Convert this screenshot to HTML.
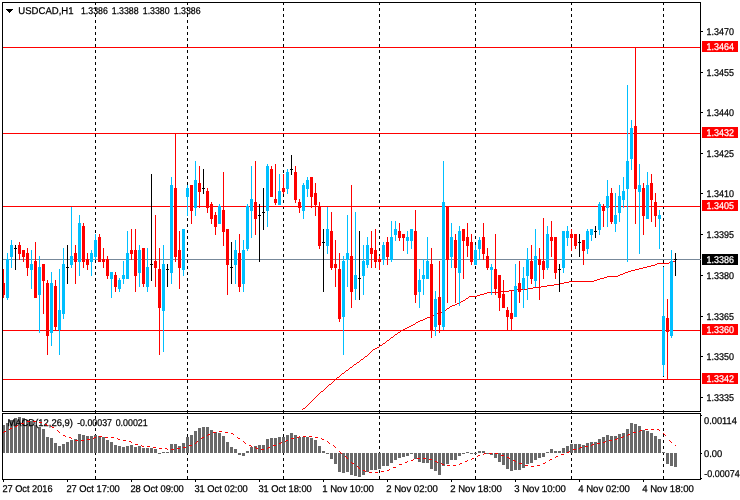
<!DOCTYPE html>
<html><head><meta charset="utf-8"><title>USDCAD,H1</title>
<style>
html,body{margin:0;padding:0;background:#fff;}
body{width:740px;height:500px;overflow:hidden;}
svg{display:block;font-family:"Liberation Sans",sans-serif;font-size:9.8px;text-rendering:geometricPrecision;}
text{stroke:#000;stroke-width:0.25px;}
text.w{stroke:#fff;}
</style></head><body>
<svg width="740" height="500" viewBox="0 0 740 500" shape-rendering="crispEdges">
<rect width="740" height="500" fill="#fff"/>
<path d="M95 2h1v3h-1zM95 8h1v3h-1zM95 14h1v3h-1zM95 20h1v3h-1zM95 26h1v3h-1zM95 32h1v3h-1zM95 38h1v3h-1zM95 44h1v3h-1zM95 50h1v3h-1zM95 56h1v3h-1zM95 62h1v3h-1zM95 68h1v3h-1zM95 74h1v3h-1zM95 80h1v3h-1zM95 86h1v3h-1zM95 92h1v3h-1zM95 98h1v3h-1zM95 104h1v3h-1zM95 110h1v3h-1zM95 116h1v3h-1zM95 122h1v3h-1zM95 128h1v3h-1zM95 134h1v3h-1zM95 140h1v3h-1zM95 146h1v3h-1zM95 152h1v3h-1zM95 158h1v3h-1zM95 164h1v3h-1zM95 170h1v3h-1zM95 176h1v3h-1zM95 182h1v3h-1zM95 188h1v3h-1zM95 194h1v3h-1zM95 200h1v3h-1zM95 206h1v3h-1zM95 212h1v3h-1zM95 218h1v3h-1zM95 224h1v3h-1zM95 230h1v3h-1zM95 236h1v3h-1zM95 242h1v3h-1zM95 248h1v3h-1zM95 254h1v3h-1zM95 260h1v3h-1zM95 266h1v3h-1zM95 272h1v3h-1zM95 278h1v3h-1zM95 284h1v3h-1zM95 290h1v3h-1zM95 296h1v3h-1zM95 302h1v3h-1zM95 308h1v3h-1zM95 314h1v3h-1zM95 320h1v3h-1zM95 326h1v3h-1zM95 332h1v3h-1zM95 338h1v3h-1zM95 344h1v3h-1zM95 350h1v3h-1zM95 356h1v3h-1zM95 362h1v3h-1zM95 368h1v3h-1zM95 374h1v3h-1zM95 380h1v3h-1zM95 386h1v3h-1zM95 392h1v3h-1zM95 398h1v3h-1zM95 404h1v3h-1zM95 410h1v3h-1zM95 416h1v3h-1zM95 422h1v3h-1zM95 428h1v3h-1zM95 434h1v3h-1zM95 440h1v3h-1zM95 446h1v3h-1zM95 452h1v3h-1zM95 458h1v3h-1zM95 464h1v3h-1zM95 470h1v3h-1zM95 476h1v3h-1zM187 2h1v3h-1zM187 8h1v3h-1zM187 14h1v3h-1zM187 20h1v3h-1zM187 26h1v3h-1zM187 32h1v3h-1zM187 38h1v3h-1zM187 44h1v3h-1zM187 50h1v3h-1zM187 56h1v3h-1zM187 62h1v3h-1zM187 68h1v3h-1zM187 74h1v3h-1zM187 80h1v3h-1zM187 86h1v3h-1zM187 92h1v3h-1zM187 98h1v3h-1zM187 104h1v3h-1zM187 110h1v3h-1zM187 116h1v3h-1zM187 122h1v3h-1zM187 128h1v3h-1zM187 134h1v3h-1zM187 140h1v3h-1zM187 146h1v3h-1zM187 152h1v3h-1zM187 158h1v3h-1zM187 164h1v3h-1zM187 170h1v3h-1zM187 176h1v3h-1zM187 182h1v3h-1zM187 188h1v3h-1zM187 194h1v3h-1zM187 200h1v3h-1zM187 206h1v3h-1zM187 212h1v3h-1zM187 218h1v3h-1zM187 224h1v3h-1zM187 230h1v3h-1zM187 236h1v3h-1zM187 242h1v3h-1zM187 248h1v3h-1zM187 254h1v3h-1zM187 260h1v3h-1zM187 266h1v3h-1zM187 272h1v3h-1zM187 278h1v3h-1zM187 284h1v3h-1zM187 290h1v3h-1zM187 296h1v3h-1zM187 302h1v3h-1zM187 308h1v3h-1zM187 314h1v3h-1zM187 320h1v3h-1zM187 326h1v3h-1zM187 332h1v3h-1zM187 338h1v3h-1zM187 344h1v3h-1zM187 350h1v3h-1zM187 356h1v3h-1zM187 362h1v3h-1zM187 368h1v3h-1zM187 374h1v3h-1zM187 380h1v3h-1zM187 386h1v3h-1zM187 392h1v3h-1zM187 398h1v3h-1zM187 404h1v3h-1zM187 410h1v3h-1zM187 416h1v3h-1zM187 422h1v3h-1zM187 428h1v3h-1zM187 434h1v3h-1zM187 440h1v3h-1zM187 446h1v3h-1zM187 452h1v3h-1zM187 458h1v3h-1zM187 464h1v3h-1zM187 470h1v3h-1zM187 476h1v3h-1zM283 2h1v3h-1zM283 8h1v3h-1zM283 14h1v3h-1zM283 20h1v3h-1zM283 26h1v3h-1zM283 32h1v3h-1zM283 38h1v3h-1zM283 44h1v3h-1zM283 50h1v3h-1zM283 56h1v3h-1zM283 62h1v3h-1zM283 68h1v3h-1zM283 74h1v3h-1zM283 80h1v3h-1zM283 86h1v3h-1zM283 92h1v3h-1zM283 98h1v3h-1zM283 104h1v3h-1zM283 110h1v3h-1zM283 116h1v3h-1zM283 122h1v3h-1zM283 128h1v3h-1zM283 134h1v3h-1zM283 140h1v3h-1zM283 146h1v3h-1zM283 152h1v3h-1zM283 158h1v3h-1zM283 164h1v3h-1zM283 170h1v3h-1zM283 176h1v3h-1zM283 182h1v3h-1zM283 188h1v3h-1zM283 194h1v3h-1zM283 200h1v3h-1zM283 206h1v3h-1zM283 212h1v3h-1zM283 218h1v3h-1zM283 224h1v3h-1zM283 230h1v3h-1zM283 236h1v3h-1zM283 242h1v3h-1zM283 248h1v3h-1zM283 254h1v3h-1zM283 260h1v3h-1zM283 266h1v3h-1zM283 272h1v3h-1zM283 278h1v3h-1zM283 284h1v3h-1zM283 290h1v3h-1zM283 296h1v3h-1zM283 302h1v3h-1zM283 308h1v3h-1zM283 314h1v3h-1zM283 320h1v3h-1zM283 326h1v3h-1zM283 332h1v3h-1zM283 338h1v3h-1zM283 344h1v3h-1zM283 350h1v3h-1zM283 356h1v3h-1zM283 362h1v3h-1zM283 368h1v3h-1zM283 374h1v3h-1zM283 380h1v3h-1zM283 386h1v3h-1zM283 392h1v3h-1zM283 398h1v3h-1zM283 404h1v3h-1zM283 410h1v3h-1zM283 416h1v3h-1zM283 422h1v3h-1zM283 428h1v3h-1zM283 434h1v3h-1zM283 440h1v3h-1zM283 446h1v3h-1zM283 452h1v3h-1zM283 458h1v3h-1zM283 464h1v3h-1zM283 470h1v3h-1zM283 476h1v3h-1zM379 2h1v3h-1zM379 8h1v3h-1zM379 14h1v3h-1zM379 20h1v3h-1zM379 26h1v3h-1zM379 32h1v3h-1zM379 38h1v3h-1zM379 44h1v3h-1zM379 50h1v3h-1zM379 56h1v3h-1zM379 62h1v3h-1zM379 68h1v3h-1zM379 74h1v3h-1zM379 80h1v3h-1zM379 86h1v3h-1zM379 92h1v3h-1zM379 98h1v3h-1zM379 104h1v3h-1zM379 110h1v3h-1zM379 116h1v3h-1zM379 122h1v3h-1zM379 128h1v3h-1zM379 134h1v3h-1zM379 140h1v3h-1zM379 146h1v3h-1zM379 152h1v3h-1zM379 158h1v3h-1zM379 164h1v3h-1zM379 170h1v3h-1zM379 176h1v3h-1zM379 182h1v3h-1zM379 188h1v3h-1zM379 194h1v3h-1zM379 200h1v3h-1zM379 206h1v3h-1zM379 212h1v3h-1zM379 218h1v3h-1zM379 224h1v3h-1zM379 230h1v3h-1zM379 236h1v3h-1zM379 242h1v3h-1zM379 248h1v3h-1zM379 254h1v3h-1zM379 260h1v3h-1zM379 266h1v3h-1zM379 272h1v3h-1zM379 278h1v3h-1zM379 284h1v3h-1zM379 290h1v3h-1zM379 296h1v3h-1zM379 302h1v3h-1zM379 308h1v3h-1zM379 314h1v3h-1zM379 320h1v3h-1zM379 326h1v3h-1zM379 332h1v3h-1zM379 338h1v3h-1zM379 344h1v3h-1zM379 350h1v3h-1zM379 356h1v3h-1zM379 362h1v3h-1zM379 368h1v3h-1zM379 374h1v3h-1zM379 380h1v3h-1zM379 386h1v3h-1zM379 392h1v3h-1zM379 398h1v3h-1zM379 404h1v3h-1zM379 410h1v3h-1zM379 416h1v3h-1zM379 422h1v3h-1zM379 428h1v3h-1zM379 434h1v3h-1zM379 440h1v3h-1zM379 446h1v3h-1zM379 452h1v3h-1zM379 458h1v3h-1zM379 464h1v3h-1zM379 470h1v3h-1zM379 476h1v3h-1zM475 2h1v3h-1zM475 8h1v3h-1zM475 14h1v3h-1zM475 20h1v3h-1zM475 26h1v3h-1zM475 32h1v3h-1zM475 38h1v3h-1zM475 44h1v3h-1zM475 50h1v3h-1zM475 56h1v3h-1zM475 62h1v3h-1zM475 68h1v3h-1zM475 74h1v3h-1zM475 80h1v3h-1zM475 86h1v3h-1zM475 92h1v3h-1zM475 98h1v3h-1zM475 104h1v3h-1zM475 110h1v3h-1zM475 116h1v3h-1zM475 122h1v3h-1zM475 128h1v3h-1zM475 134h1v3h-1zM475 140h1v3h-1zM475 146h1v3h-1zM475 152h1v3h-1zM475 158h1v3h-1zM475 164h1v3h-1zM475 170h1v3h-1zM475 176h1v3h-1zM475 182h1v3h-1zM475 188h1v3h-1zM475 194h1v3h-1zM475 200h1v3h-1zM475 206h1v3h-1zM475 212h1v3h-1zM475 218h1v3h-1zM475 224h1v3h-1zM475 230h1v3h-1zM475 236h1v3h-1zM475 242h1v3h-1zM475 248h1v3h-1zM475 254h1v3h-1zM475 260h1v3h-1zM475 266h1v3h-1zM475 272h1v3h-1zM475 278h1v3h-1zM475 284h1v3h-1zM475 290h1v3h-1zM475 296h1v3h-1zM475 302h1v3h-1zM475 308h1v3h-1zM475 314h1v3h-1zM475 320h1v3h-1zM475 326h1v3h-1zM475 332h1v3h-1zM475 338h1v3h-1zM475 344h1v3h-1zM475 350h1v3h-1zM475 356h1v3h-1zM475 362h1v3h-1zM475 368h1v3h-1zM475 374h1v3h-1zM475 380h1v3h-1zM475 386h1v3h-1zM475 392h1v3h-1zM475 398h1v3h-1zM475 404h1v3h-1zM475 410h1v3h-1zM475 416h1v3h-1zM475 422h1v3h-1zM475 428h1v3h-1zM475 434h1v3h-1zM475 440h1v3h-1zM475 446h1v3h-1zM475 452h1v3h-1zM475 458h1v3h-1zM475 464h1v3h-1zM475 470h1v3h-1zM475 476h1v3h-1zM571 2h1v3h-1zM571 8h1v3h-1zM571 14h1v3h-1zM571 20h1v3h-1zM571 26h1v3h-1zM571 32h1v3h-1zM571 38h1v3h-1zM571 44h1v3h-1zM571 50h1v3h-1zM571 56h1v3h-1zM571 62h1v3h-1zM571 68h1v3h-1zM571 74h1v3h-1zM571 80h1v3h-1zM571 86h1v3h-1zM571 92h1v3h-1zM571 98h1v3h-1zM571 104h1v3h-1zM571 110h1v3h-1zM571 116h1v3h-1zM571 122h1v3h-1zM571 128h1v3h-1zM571 134h1v3h-1zM571 140h1v3h-1zM571 146h1v3h-1zM571 152h1v3h-1zM571 158h1v3h-1zM571 164h1v3h-1zM571 170h1v3h-1zM571 176h1v3h-1zM571 182h1v3h-1zM571 188h1v3h-1zM571 194h1v3h-1zM571 200h1v3h-1zM571 206h1v3h-1zM571 212h1v3h-1zM571 218h1v3h-1zM571 224h1v3h-1zM571 230h1v3h-1zM571 236h1v3h-1zM571 242h1v3h-1zM571 248h1v3h-1zM571 254h1v3h-1zM571 260h1v3h-1zM571 266h1v3h-1zM571 272h1v3h-1zM571 278h1v3h-1zM571 284h1v3h-1zM571 290h1v3h-1zM571 296h1v3h-1zM571 302h1v3h-1zM571 308h1v3h-1zM571 314h1v3h-1zM571 320h1v3h-1zM571 326h1v3h-1zM571 332h1v3h-1zM571 338h1v3h-1zM571 344h1v3h-1zM571 350h1v3h-1zM571 356h1v3h-1zM571 362h1v3h-1zM571 368h1v3h-1zM571 374h1v3h-1zM571 380h1v3h-1zM571 386h1v3h-1zM571 392h1v3h-1zM571 398h1v3h-1zM571 404h1v3h-1zM571 410h1v3h-1zM571 416h1v3h-1zM571 422h1v3h-1zM571 428h1v3h-1zM571 434h1v3h-1zM571 440h1v3h-1zM571 446h1v3h-1zM571 452h1v3h-1zM571 458h1v3h-1zM571 464h1v3h-1zM571 470h1v3h-1zM571 476h1v3h-1zM663 2h1v3h-1zM663 8h1v3h-1zM663 14h1v3h-1zM663 20h1v3h-1zM663 26h1v3h-1zM663 32h1v3h-1zM663 38h1v3h-1zM663 44h1v3h-1zM663 50h1v3h-1zM663 56h1v3h-1zM663 62h1v3h-1zM663 68h1v3h-1zM663 74h1v3h-1zM663 80h1v3h-1zM663 86h1v3h-1zM663 92h1v3h-1zM663 98h1v3h-1zM663 104h1v3h-1zM663 110h1v3h-1zM663 116h1v3h-1zM663 122h1v3h-1zM663 128h1v3h-1zM663 134h1v3h-1zM663 140h1v3h-1zM663 146h1v3h-1zM663 152h1v3h-1zM663 158h1v3h-1zM663 164h1v3h-1zM663 170h1v3h-1zM663 176h1v3h-1zM663 182h1v3h-1zM663 188h1v3h-1zM663 194h1v3h-1zM663 200h1v3h-1zM663 206h1v3h-1zM663 212h1v3h-1zM663 218h1v3h-1zM663 224h1v3h-1zM663 230h1v3h-1zM663 236h1v3h-1zM663 242h1v3h-1zM663 248h1v3h-1zM663 254h1v3h-1zM663 260h1v3h-1zM663 266h1v3h-1zM663 272h1v3h-1zM663 278h1v3h-1zM663 284h1v3h-1zM663 290h1v3h-1zM663 296h1v3h-1zM663 302h1v3h-1zM663 308h1v3h-1zM663 314h1v3h-1zM663 320h1v3h-1zM663 326h1v3h-1zM663 332h1v3h-1zM663 338h1v3h-1zM663 344h1v3h-1zM663 350h1v3h-1zM663 356h1v3h-1zM663 362h1v3h-1zM663 368h1v3h-1zM663 374h1v3h-1zM663 380h1v3h-1zM663 386h1v3h-1zM663 392h1v3h-1zM663 398h1v3h-1zM663 404h1v3h-1zM663 410h1v3h-1zM663 416h1v3h-1zM663 422h1v3h-1zM663 428h1v3h-1zM663 434h1v3h-1zM663 440h1v3h-1zM663 446h1v3h-1zM663 452h1v3h-1zM663 458h1v3h-1zM663 464h1v3h-1zM663 470h1v3h-1zM663 476h1v3h-1z" fill="#000"/>
<rect x="3" y="47" width="697" height="1" fill="#FF0000"/>
<rect x="3" y="133" width="697" height="1" fill="#FF0000"/>
<rect x="3" y="206" width="697" height="1" fill="#FF0000"/>
<rect x="3" y="330" width="697" height="1" fill="#FF0000"/>
<rect x="3" y="379" width="697" height="1" fill="#FF0000"/>
<rect x="3" y="259" width="698" height="1" fill="#778899"/>
<path d="M302 409h1v1h-1zM303 408h1v1h-1zM304 408h1v1h-1zM305 407h1v1h-1zM306 406h1v1h-1zM307 405h1v1h-1zM308 404h1v1h-1zM309 403h1v1h-1zM310 402h1v1h-1zM311 401h1v1h-1zM312 400h1v1h-1zM313 399h1v1h-1zM314 398h1v1h-1zM315 397h1v1h-1zM316 396h1v1h-1zM317 395h1v1h-1zM318 394h1v1h-1zM319 393h1v1h-1zM320 392h1v1h-1zM321 391h1v1h-1zM322 391h1v1h-1zM323 390h1v1h-1zM324 389h1v1h-1zM325 388h1v1h-1zM326 387h1v1h-1zM327 386h1v1h-1zM328 385h1v1h-1zM329 384h1v1h-1zM330 384h1v1h-1zM331 383h1v1h-1zM332 382h1v1h-1zM333 381h1v1h-1zM334 380h1v1h-1zM335 379h1v1h-1zM336 378h1v1h-1zM337 377h1v1h-1zM338 377h1v1h-1zM339 376h1v1h-1zM340 375h1v1h-1zM341 374h1v1h-1zM342 373h1v1h-1zM343 373h1v1h-1zM344 372h1v1h-1zM345 371h1v1h-1zM346 370h1v1h-1zM347 370h1v1h-1zM348 369h1v1h-1zM349 368h1v1h-1zM350 367h1v1h-1zM351 367h1v1h-1zM352 366h1v1h-1zM353 365h1v1h-1zM354 364h1v1h-1zM355 364h1v1h-1zM356 363h1v1h-1zM357 362h1v1h-1zM358 362h1v1h-1zM359 361h1v1h-1zM360 360h1v1h-1zM361 359h1v1h-1zM362 359h1v1h-1zM363 358h1v1h-1zM364 357h1v1h-1zM365 356h1v1h-1zM366 356h1v1h-1zM367 355h1v1h-1zM368 354h1v1h-1zM369 353h1v1h-1zM370 352h1v1h-1zM371 351h1v1h-1zM372 350h1v1h-1zM373 349h1v1h-1zM374 349h1v1h-1zM375 348h1v1h-1zM376 348h1v1h-1zM377 347h1v1h-1zM378 347h1v1h-1zM379 346h1v1h-1zM380 345h1v1h-1zM381 345h1v1h-1zM382 344h1v1h-1zM383 343h1v1h-1zM384 343h1v1h-1zM385 342h1v1h-1zM386 341h1v1h-1zM387 340h1v1h-1zM388 340h1v1h-1zM389 339h1v1h-1zM390 338h1v1h-1zM391 337h1v1h-1zM392 337h1v1h-1zM393 336h1v1h-1zM394 335h1v1h-1zM395 334h1v1h-1zM396 334h1v1h-1zM397 333h1v1h-1zM398 332h1v1h-1zM399 332h1v1h-1zM400 331h1v1h-1zM401 330h1v1h-1zM402 330h1v1h-1zM403 329h1v1h-1zM404 329h1v1h-1zM405 328h1v1h-1zM406 328h1v1h-1zM407 327h1v1h-1zM408 327h1v1h-1zM409 326h1v1h-1zM410 326h1v1h-1zM411 325h1v1h-1zM412 325h1v1h-1zM413 324h1v1h-1zM414 324h1v1h-1zM415 323h1v1h-1zM416 322h1v1h-1zM417 322h1v1h-1zM418 321h1v1h-1zM419 321h1v1h-1zM420 320h1v1h-1zM421 320h1v1h-1zM422 320h1v1h-1zM423 319h1v1h-1zM424 319h1v1h-1zM425 318h1v1h-1zM426 318h1v1h-1zM427 317h1v1h-1zM428 317h1v1h-1zM429 317h1v1h-1zM430 316h1v1h-1zM431 316h1v1h-1zM432 315h1v1h-1zM433 315h1v1h-1zM434 314h1v1h-1zM435 314h1v1h-1zM436 313h1v1h-1zM437 313h1v1h-1zM438 313h1v1h-1zM439 312h1v1h-1zM440 312h1v1h-1zM441 312h1v1h-1zM442 311h1v1h-1zM443 311h1v1h-1zM444 310h1v1h-1zM445 310h1v1h-1zM446 309h1v1h-1zM447 308h1v1h-1zM448 308h1v1h-1zM449 307h1v1h-1zM450 306h1v1h-1zM451 306h1v1h-1zM452 305h1v1h-1zM453 305h1v1h-1zM454 305h1v1h-1zM455 304h1v1h-1zM456 304h1v1h-1zM457 303h1v1h-1zM458 303h1v1h-1zM459 303h1v1h-1zM460 302h1v1h-1zM461 301h1v1h-1zM462 301h1v1h-1zM463 300h1v1h-1zM464 300h1v1h-1zM465 299h1v1h-1zM466 298h1v1h-1zM467 298h1v1h-1zM468 297h1v1h-1zM469 296h1v1h-1zM470 296h1v1h-1zM471 296h1v1h-1zM472 296h1v1h-1zM473 296h1v1h-1zM474 296h1v1h-1zM475 296h1v1h-1zM476 296h1v1h-1zM477 295h1v1h-1zM478 295h1v1h-1zM479 295h1v1h-1zM480 294h1v1h-1zM481 294h1v1h-1zM482 294h1v1h-1zM483 294h1v1h-1zM484 293h1v1h-1zM485 293h1v1h-1zM486 293h1v1h-1zM487 292h1v1h-1zM488 292h1v1h-1zM489 292h1v1h-1zM490 292h1v1h-1zM491 292h1v1h-1zM492 292h1v1h-1zM493 292h1v1h-1zM494 292h1v1h-1zM495 292h1v1h-1zM496 292h1v1h-1zM497 292h1v1h-1zM498 292h1v1h-1zM499 292h1v1h-1zM500 292h1v1h-1zM501 291h1v1h-1zM502 291h1v1h-1zM503 291h1v1h-1zM504 291h1v1h-1zM505 291h1v1h-1zM506 291h1v1h-1zM507 291h1v1h-1zM508 291h1v1h-1zM509 290h1v1h-1zM510 290h1v1h-1zM511 290h1v1h-1zM512 290h1v1h-1zM513 290h1v1h-1zM514 289h1v1h-1zM515 289h1v1h-1zM516 289h1v1h-1zM517 289h1v1h-1zM518 289h1v1h-1zM519 289h1v1h-1zM520 289h1v1h-1zM521 289h1v1h-1zM522 289h1v1h-1zM523 289h1v1h-1zM524 289h1v1h-1zM525 289h1v1h-1zM526 289h1v1h-1zM527 289h1v1h-1zM528 288h1v1h-1zM529 288h1v1h-1zM530 288h1v1h-1zM531 288h1v1h-1zM532 288h1v1h-1zM533 287h1v1h-1zM534 287h1v1h-1zM535 287h1v1h-1zM536 287h1v1h-1zM537 287h1v1h-1zM538 287h1v1h-1zM539 287h1v1h-1zM540 287h1v1h-1zM541 286h1v1h-1zM542 286h1v1h-1zM543 286h1v1h-1zM544 286h1v1h-1zM545 286h1v1h-1zM546 286h1v1h-1zM547 285h1v1h-1zM548 285h1v1h-1zM549 285h1v1h-1zM550 285h1v1h-1zM551 285h1v1h-1zM552 285h1v1h-1zM553 285h1v1h-1zM554 284h1v1h-1zM555 284h1v1h-1zM556 284h1v1h-1zM557 284h1v1h-1zM558 284h1v1h-1zM559 284h1v1h-1zM560 283h1v1h-1zM561 283h1v1h-1zM562 283h1v1h-1zM563 283h1v1h-1zM564 282h1v1h-1zM565 282h1v1h-1zM566 282h1v1h-1zM567 282h1v1h-1zM568 282h1v1h-1zM569 281h1v1h-1zM570 281h1v1h-1zM571 281h1v1h-1zM572 281h1v1h-1zM573 281h1v1h-1zM574 281h1v1h-1zM575 281h1v1h-1zM576 281h1v1h-1zM577 281h1v1h-1zM578 281h1v1h-1zM579 281h1v1h-1zM580 281h1v1h-1zM581 281h1v1h-1zM582 281h1v1h-1zM583 281h1v1h-1zM584 281h1v1h-1zM585 281h1v1h-1zM586 281h1v1h-1zM587 281h1v1h-1zM588 281h1v1h-1zM589 281h1v1h-1zM590 281h1v1h-1zM591 281h1v1h-1zM592 281h1v1h-1zM593 281h1v1h-1zM594 280h1v1h-1zM595 280h1v1h-1zM596 280h1v1h-1zM597 279h1v1h-1zM598 279h1v1h-1zM599 279h1v1h-1zM600 278h1v1h-1zM601 278h1v1h-1zM602 278h1v1h-1zM603 278h1v1h-1zM604 277h1v1h-1zM605 277h1v1h-1zM606 277h1v1h-1zM607 276h1v1h-1zM608 276h1v1h-1zM609 276h1v1h-1zM610 276h1v1h-1zM611 276h1v1h-1zM612 276h1v1h-1zM613 276h1v1h-1zM614 276h1v1h-1zM615 276h1v1h-1zM616 276h1v1h-1zM617 276h1v1h-1zM618 275h1v1h-1zM619 275h1v1h-1zM620 274h1v1h-1zM621 274h1v1h-1zM622 274h1v1h-1zM623 273h1v1h-1zM624 273h1v1h-1zM625 272h1v1h-1zM626 272h1v1h-1zM627 272h1v1h-1zM628 271h1v1h-1zM629 271h1v1h-1zM630 271h1v1h-1zM631 270h1v1h-1zM632 270h1v1h-1zM633 270h1v1h-1zM634 270h1v1h-1zM635 269h1v1h-1zM636 269h1v1h-1zM637 269h1v1h-1zM638 269h1v1h-1zM639 268h1v1h-1zM640 268h1v1h-1zM641 268h1v1h-1zM642 268h1v1h-1zM643 267h1v1h-1zM644 267h1v1h-1zM645 267h1v1h-1zM646 267h1v1h-1zM647 266h1v1h-1zM648 266h1v1h-1zM649 266h1v1h-1zM650 266h1v1h-1zM651 265h1v1h-1zM652 265h1v1h-1zM653 265h1v1h-1zM654 265h1v1h-1zM655 264h1v1h-1zM656 264h1v1h-1zM657 263h1v1h-1zM658 263h1v1h-1zM659 263h1v1h-1zM660 263h1v1h-1zM661 263h1v1h-1zM662 263h1v1h-1zM663 263h1v1h-1zM664 263h1v1h-1zM665 263h1v1h-1zM666 263h1v1h-1zM667 263h1v1h-1zM668 263h1v1h-1zM669 262h1v1h-1zM670 262h1v1h-1zM671 261h1v1h-1zM672 261h1v1h-1zM673 261h1v1h-1zM674 261h1v1h-1zM675 261h1v1h-1z" fill="#FF0000"/>
<rect x="3" y="269" width="1" height="29" fill="#FF0000"/>
<rect x="2" y="283" width="3" height="12" fill="#FF0000"/>
<rect x="7" y="253" width="1" height="47" fill="#00BFFF"/>
<rect x="6" y="259" width="3" height="39" fill="#00BFFF"/>
<rect x="11" y="240" width="1" height="28" fill="#00BFFF"/>
<rect x="10" y="245" width="3" height="12" fill="#00BFFF"/>
<rect x="15" y="245" width="1" height="25" fill="#000000"/>
<rect x="14" y="248" width="3" height="1" fill="#000000"/>
<rect x="19" y="242" width="1" height="18" fill="#FF0000"/>
<rect x="18" y="245" width="3" height="9" fill="#FF0000"/>
<rect x="23" y="250" width="1" height="12" fill="#FF0000"/>
<rect x="22" y="250" width="3" height="7" fill="#FF0000"/>
<rect x="27" y="248" width="1" height="28" fill="#FF0000"/>
<rect x="26" y="253" width="3" height="15" fill="#FF0000"/>
<rect x="31" y="250" width="1" height="39" fill="#00BFFF"/>
<rect x="30" y="264" width="3" height="6" fill="#00BFFF"/>
<rect x="35" y="242" width="1" height="56" fill="#FF0000"/>
<rect x="34" y="261" width="3" height="37" fill="#FF0000"/>
<rect x="39" y="256" width="1" height="77" fill="#00BFFF"/>
<rect x="38" y="267" width="3" height="28" fill="#00BFFF"/>
<rect x="43" y="264" width="1" height="50" fill="#FF0000"/>
<rect x="42" y="264" width="3" height="17" fill="#FF0000"/>
<rect x="47" y="280" width="1" height="75" fill="#FF0000"/>
<rect x="46" y="283" width="3" height="53" fill="#FF0000"/>
<rect x="51" y="272" width="1" height="74" fill="#00BFFF"/>
<rect x="50" y="283" width="3" height="50" fill="#00BFFF"/>
<rect x="55" y="280" width="1" height="51" fill="#FF0000"/>
<rect x="54" y="286" width="3" height="41" fill="#FF0000"/>
<rect x="59" y="269" width="1" height="86" fill="#00BFFF"/>
<rect x="58" y="310" width="3" height="20" fill="#00BFFF"/>
<rect x="63" y="248" width="1" height="71" fill="#00BFFF"/>
<rect x="62" y="264" width="3" height="50" fill="#00BFFF"/>
<rect x="67" y="245" width="1" height="39" fill="#000000"/>
<rect x="66" y="267" width="3" height="1" fill="#000000"/>
<rect x="71" y="207" width="1" height="61" fill="#00BFFF"/>
<rect x="70" y="256" width="3" height="9" fill="#00BFFF"/>
<rect x="75" y="245" width="1" height="39" fill="#FF0000"/>
<rect x="74" y="253" width="3" height="9" fill="#FF0000"/>
<rect x="79" y="215" width="1" height="61" fill="#00BFFF"/>
<rect x="78" y="223" width="3" height="39" fill="#00BFFF"/>
<rect x="83" y="223" width="1" height="45" fill="#FF0000"/>
<rect x="82" y="226" width="3" height="36" fill="#FF0000"/>
<rect x="87" y="253" width="1" height="17" fill="#FF0000"/>
<rect x="86" y="259" width="3" height="6" fill="#FF0000"/>
<rect x="91" y="250" width="1" height="26" fill="#00BFFF"/>
<rect x="90" y="253" width="3" height="9" fill="#00BFFF"/>
<rect x="95" y="234" width="1" height="26" fill="#00BFFF"/>
<rect x="94" y="240" width="3" height="17" fill="#00BFFF"/>
<rect x="99" y="234" width="1" height="28" fill="#FF0000"/>
<rect x="98" y="237" width="3" height="25" fill="#FF0000"/>
<rect x="103" y="248" width="1" height="20" fill="#FF0000"/>
<rect x="102" y="259" width="3" height="3" fill="#FF0000"/>
<rect x="107" y="256" width="1" height="23" fill="#FF0000"/>
<rect x="106" y="259" width="3" height="17" fill="#FF0000"/>
<rect x="111" y="272" width="1" height="26" fill="#00BFFF"/>
<rect x="110" y="272" width="3" height="7" fill="#00BFFF"/>
<rect x="115" y="272" width="1" height="20" fill="#FF0000"/>
<rect x="114" y="275" width="3" height="12" fill="#FF0000"/>
<rect x="119" y="278" width="1" height="14" fill="#00BFFF"/>
<rect x="118" y="280" width="3" height="9" fill="#00BFFF"/>
<rect x="123" y="261" width="1" height="23" fill="#00BFFF"/>
<rect x="122" y="275" width="3" height="4" fill="#00BFFF"/>
<rect x="127" y="231" width="1" height="48" fill="#00BFFF"/>
<rect x="126" y="253" width="3" height="26" fill="#00BFFF"/>
<rect x="131" y="229" width="1" height="31" fill="#FF0000"/>
<rect x="130" y="250" width="3" height="4" fill="#FF0000"/>
<rect x="135" y="229" width="1" height="63" fill="#FF0000"/>
<rect x="134" y="250" width="3" height="26" fill="#FF0000"/>
<rect x="139" y="245" width="1" height="42" fill="#00BFFF"/>
<rect x="138" y="250" width="3" height="23" fill="#00BFFF"/>
<rect x="143" y="248" width="1" height="39" fill="#FF0000"/>
<rect x="142" y="248" width="3" height="36" fill="#FF0000"/>
<rect x="147" y="248" width="1" height="44" fill="#00BFFF"/>
<rect x="146" y="267" width="3" height="20" fill="#00BFFF"/>
<rect x="151" y="174" width="1" height="107" fill="#000000"/>
<rect x="150" y="264" width="3" height="1" fill="#000000"/>
<rect x="155" y="215" width="1" height="72" fill="#FF0000"/>
<rect x="154" y="261" width="3" height="7" fill="#FF0000"/>
<rect x="159" y="248" width="1" height="107" fill="#FF0000"/>
<rect x="158" y="269" width="3" height="39" fill="#FF0000"/>
<rect x="163" y="245" width="1" height="107" fill="#00BFFF"/>
<rect x="162" y="264" width="3" height="47" fill="#00BFFF"/>
<rect x="167" y="264" width="1" height="23" fill="#000000"/>
<rect x="166" y="269" width="3" height="1" fill="#000000"/>
<rect x="171" y="177" width="1" height="107" fill="#00BFFF"/>
<rect x="170" y="185" width="3" height="88" fill="#00BFFF"/>
<rect x="175" y="133" width="1" height="129" fill="#FF0000"/>
<rect x="174" y="188" width="3" height="69" fill="#FF0000"/>
<rect x="179" y="231" width="1" height="58" fill="#FF0000"/>
<rect x="178" y="250" width="3" height="18" fill="#FF0000"/>
<rect x="183" y="229" width="1" height="47" fill="#00BFFF"/>
<rect x="182" y="229" width="3" height="41" fill="#00BFFF"/>
<rect x="187" y="185" width="1" height="31" fill="#00BFFF"/>
<rect x="186" y="188" width="3" height="9" fill="#00BFFF"/>
<rect x="191" y="185" width="1" height="39" fill="#FF0000"/>
<rect x="190" y="185" width="3" height="26" fill="#FF0000"/>
<rect x="195" y="161" width="1" height="55" fill="#00BFFF"/>
<rect x="194" y="180" width="3" height="28" fill="#00BFFF"/>
<rect x="199" y="166" width="1" height="42" fill="#FF0000"/>
<rect x="198" y="183" width="3" height="9" fill="#FF0000"/>
<rect x="203" y="169" width="1" height="25" fill="#000000"/>
<rect x="202" y="188" width="3" height="1" fill="#000000"/>
<rect x="207" y="188" width="1" height="25" fill="#FF0000"/>
<rect x="206" y="191" width="3" height="17" fill="#FF0000"/>
<rect x="211" y="202" width="1" height="22" fill="#FF0000"/>
<rect x="210" y="204" width="3" height="15" fill="#FF0000"/>
<rect x="215" y="212" width="1" height="23" fill="#FF0000"/>
<rect x="214" y="215" width="3" height="12" fill="#FF0000"/>
<rect x="219" y="204" width="1" height="20" fill="#00BFFF"/>
<rect x="218" y="206" width="3" height="18" fill="#00BFFF"/>
<rect x="223" y="172" width="1" height="74" fill="#FF0000"/>
<rect x="222" y="210" width="3" height="22" fill="#FF0000"/>
<rect x="227" y="229" width="1" height="66" fill="#FF0000"/>
<rect x="226" y="229" width="3" height="36" fill="#FF0000"/>
<rect x="231" y="242" width="1" height="42" fill="#000000"/>
<rect x="230" y="267" width="3" height="1" fill="#000000"/>
<rect x="235" y="240" width="1" height="44" fill="#00BFFF"/>
<rect x="234" y="250" width="3" height="15" fill="#00BFFF"/>
<rect x="239" y="234" width="1" height="58" fill="#FF0000"/>
<rect x="238" y="253" width="3" height="34" fill="#FF0000"/>
<rect x="243" y="240" width="1" height="52" fill="#00BFFF"/>
<rect x="242" y="250" width="3" height="34" fill="#00BFFF"/>
<rect x="247" y="204" width="1" height="47" fill="#00BFFF"/>
<rect x="246" y="206" width="3" height="43" fill="#00BFFF"/>
<rect x="251" y="166" width="1" height="72" fill="#00BFFF"/>
<rect x="250" y="199" width="3" height="12" fill="#00BFFF"/>
<rect x="255" y="161" width="1" height="74" fill="#FF0000"/>
<rect x="254" y="202" width="3" height="17" fill="#FF0000"/>
<rect x="259" y="204" width="1" height="58" fill="#000000"/>
<rect x="258" y="215" width="3" height="1" fill="#000000"/>
<rect x="263" y="188" width="1" height="42" fill="#000000"/>
<rect x="262" y="212" width="3" height="1" fill="#000000"/>
<rect x="267" y="164" width="1" height="63" fill="#00BFFF"/>
<rect x="266" y="166" width="3" height="45" fill="#00BFFF"/>
<rect x="271" y="166" width="1" height="31" fill="#FF0000"/>
<rect x="270" y="169" width="3" height="28" fill="#FF0000"/>
<rect x="275" y="164" width="1" height="41" fill="#FF0000"/>
<rect x="274" y="199" width="3" height="4" fill="#FF0000"/>
<rect x="279" y="174" width="1" height="31" fill="#00BFFF"/>
<rect x="278" y="191" width="3" height="14" fill="#00BFFF"/>
<rect x="283" y="174" width="1" height="20" fill="#FF0000"/>
<rect x="282" y="188" width="3" height="4" fill="#FF0000"/>
<rect x="287" y="169" width="1" height="25" fill="#00BFFF"/>
<rect x="286" y="172" width="3" height="17" fill="#00BFFF"/>
<rect x="291" y="155" width="1" height="20" fill="#000000"/>
<rect x="290" y="169" width="3" height="1" fill="#000000"/>
<rect x="295" y="166" width="1" height="37" fill="#FF0000"/>
<rect x="294" y="172" width="3" height="28" fill="#FF0000"/>
<rect x="299" y="199" width="1" height="14" fill="#FF0000"/>
<rect x="298" y="202" width="3" height="6" fill="#FF0000"/>
<rect x="303" y="183" width="1" height="36" fill="#00BFFF"/>
<rect x="302" y="185" width="3" height="26" fill="#00BFFF"/>
<rect x="307" y="177" width="1" height="20" fill="#00BFFF"/>
<rect x="306" y="180" width="3" height="9" fill="#00BFFF"/>
<rect x="311" y="177" width="1" height="31" fill="#FF0000"/>
<rect x="310" y="177" width="3" height="20" fill="#FF0000"/>
<rect x="315" y="183" width="1" height="33" fill="#FF0000"/>
<rect x="314" y="193" width="3" height="12" fill="#FF0000"/>
<rect x="319" y="202" width="1" height="47" fill="#FF0000"/>
<rect x="318" y="207" width="3" height="39" fill="#FF0000"/>
<rect x="323" y="229" width="1" height="63" fill="#000000"/>
<rect x="322" y="242" width="3" height="1" fill="#000000"/>
<rect x="327" y="207" width="1" height="47" fill="#00BFFF"/>
<rect x="326" y="229" width="3" height="17" fill="#00BFFF"/>
<rect x="331" y="212" width="1" height="58" fill="#FF0000"/>
<rect x="330" y="231" width="3" height="37" fill="#FF0000"/>
<rect x="335" y="240" width="1" height="47" fill="#FF0000"/>
<rect x="334" y="264" width="3" height="4" fill="#FF0000"/>
<rect x="339" y="253" width="1" height="69" fill="#FF0000"/>
<rect x="338" y="269" width="3" height="50" fill="#FF0000"/>
<rect x="343" y="256" width="1" height="99" fill="#00BFFF"/>
<rect x="342" y="261" width="3" height="56" fill="#00BFFF"/>
<rect x="347" y="215" width="1" height="72" fill="#00BFFF"/>
<rect x="346" y="253" width="3" height="7" fill="#00BFFF"/>
<rect x="351" y="185" width="1" height="123" fill="#FF0000"/>
<rect x="350" y="256" width="3" height="36" fill="#FF0000"/>
<rect x="355" y="212" width="1" height="88" fill="#00BFFF"/>
<rect x="354" y="275" width="3" height="14" fill="#00BFFF"/>
<rect x="359" y="231" width="1" height="69" fill="#000000"/>
<rect x="358" y="278" width="3" height="1" fill="#000000"/>
<rect x="363" y="245" width="1" height="50" fill="#00BFFF"/>
<rect x="362" y="261" width="3" height="15" fill="#00BFFF"/>
<rect x="367" y="237" width="1" height="31" fill="#00BFFF"/>
<rect x="366" y="245" width="3" height="20" fill="#00BFFF"/>
<rect x="371" y="231" width="1" height="37" fill="#FF0000"/>
<rect x="370" y="248" width="3" height="6" fill="#FF0000"/>
<rect x="375" y="229" width="1" height="39" fill="#FF0000"/>
<rect x="374" y="250" width="3" height="12" fill="#FF0000"/>
<rect x="379" y="256" width="1" height="14" fill="#FF0000"/>
<rect x="378" y="259" width="3" height="3" fill="#FF0000"/>
<rect x="383" y="242" width="1" height="23" fill="#00BFFF"/>
<rect x="382" y="245" width="3" height="15" fill="#00BFFF"/>
<rect x="387" y="237" width="1" height="28" fill="#FF0000"/>
<rect x="386" y="242" width="3" height="15" fill="#FF0000"/>
<rect x="391" y="221" width="1" height="41" fill="#00BFFF"/>
<rect x="390" y="237" width="3" height="23" fill="#00BFFF"/>
<rect x="395" y="221" width="1" height="20" fill="#00BFFF"/>
<rect x="394" y="229" width="3" height="6" fill="#00BFFF"/>
<rect x="399" y="223" width="1" height="18" fill="#FF0000"/>
<rect x="398" y="231" width="3" height="7" fill="#FF0000"/>
<rect x="403" y="234" width="1" height="17" fill="#FF0000"/>
<rect x="402" y="234" width="3" height="4" fill="#FF0000"/>
<rect x="407" y="231" width="1" height="23" fill="#00BFFF"/>
<rect x="406" y="237" width="3" height="4" fill="#00BFFF"/>
<rect x="411" y="229" width="1" height="20" fill="#00BFFF"/>
<rect x="410" y="229" width="3" height="12" fill="#00BFFF"/>
<rect x="415" y="210" width="1" height="93" fill="#FF0000"/>
<rect x="414" y="231" width="3" height="64" fill="#FF0000"/>
<rect x="419" y="269" width="1" height="39" fill="#00BFFF"/>
<rect x="418" y="280" width="3" height="12" fill="#00BFFF"/>
<rect x="423" y="259" width="1" height="36" fill="#00BFFF"/>
<rect x="422" y="275" width="3" height="4" fill="#00BFFF"/>
<rect x="427" y="237" width="1" height="42" fill="#00BFFF"/>
<rect x="426" y="261" width="3" height="18" fill="#00BFFF"/>
<rect x="431" y="248" width="1" height="90" fill="#FF0000"/>
<rect x="430" y="264" width="3" height="66" fill="#FF0000"/>
<rect x="435" y="291" width="1" height="45" fill="#00BFFF"/>
<rect x="434" y="299" width="3" height="28" fill="#00BFFF"/>
<rect x="439" y="261" width="1" height="72" fill="#FF0000"/>
<rect x="438" y="297" width="3" height="28" fill="#FF0000"/>
<rect x="443" y="161" width="1" height="169" fill="#00BFFF"/>
<rect x="442" y="202" width="3" height="125" fill="#00BFFF"/>
<rect x="447" y="207" width="1" height="96" fill="#FF0000"/>
<rect x="446" y="207" width="3" height="53" fill="#FF0000"/>
<rect x="451" y="223" width="1" height="45" fill="#00BFFF"/>
<rect x="450" y="237" width="3" height="20" fill="#00BFFF"/>
<rect x="455" y="234" width="1" height="69" fill="#FF0000"/>
<rect x="454" y="240" width="3" height="28" fill="#FF0000"/>
<rect x="459" y="226" width="1" height="80" fill="#00BFFF"/>
<rect x="458" y="231" width="3" height="42" fill="#00BFFF"/>
<rect x="463" y="229" width="1" height="50" fill="#FF0000"/>
<rect x="462" y="229" width="3" height="12" fill="#FF0000"/>
<rect x="467" y="223" width="1" height="34" fill="#FF0000"/>
<rect x="466" y="237" width="3" height="9" fill="#FF0000"/>
<rect x="471" y="234" width="1" height="31" fill="#FF0000"/>
<rect x="470" y="242" width="3" height="20" fill="#FF0000"/>
<rect x="475" y="245" width="1" height="20" fill="#00BFFF"/>
<rect x="474" y="250" width="3" height="15" fill="#00BFFF"/>
<rect x="479" y="237" width="1" height="23" fill="#00BFFF"/>
<rect x="478" y="240" width="3" height="9" fill="#00BFFF"/>
<rect x="483" y="223" width="1" height="37" fill="#FF0000"/>
<rect x="482" y="237" width="3" height="17" fill="#FF0000"/>
<rect x="487" y="248" width="1" height="22" fill="#FF0000"/>
<rect x="486" y="256" width="3" height="12" fill="#FF0000"/>
<rect x="491" y="264" width="1" height="31" fill="#00BFFF"/>
<rect x="490" y="267" width="3" height="3" fill="#00BFFF"/>
<rect x="495" y="234" width="1" height="61" fill="#FF0000"/>
<rect x="494" y="269" width="3" height="20" fill="#FF0000"/>
<rect x="499" y="275" width="1" height="36" fill="#FF0000"/>
<rect x="498" y="275" width="3" height="23" fill="#FF0000"/>
<rect x="503" y="280" width="1" height="28" fill="#FF0000"/>
<rect x="502" y="294" width="3" height="14" fill="#FF0000"/>
<rect x="507" y="307" width="1" height="24" fill="#FF0000"/>
<rect x="506" y="310" width="3" height="7" fill="#FF0000"/>
<rect x="511" y="290" width="1" height="41" fill="#FF0000"/>
<rect x="510" y="313" width="3" height="6" fill="#FF0000"/>
<rect x="515" y="264" width="1" height="53" fill="#00BFFF"/>
<rect x="514" y="286" width="3" height="31" fill="#00BFFF"/>
<rect x="519" y="261" width="1" height="42" fill="#FF0000"/>
<rect x="518" y="283" width="3" height="9" fill="#FF0000"/>
<rect x="523" y="267" width="1" height="41" fill="#00BFFF"/>
<rect x="522" y="278" width="3" height="11" fill="#00BFFF"/>
<rect x="527" y="248" width="1" height="52" fill="#00BFFF"/>
<rect x="526" y="259" width="3" height="17" fill="#00BFFF"/>
<rect x="531" y="245" width="1" height="39" fill="#FF0000"/>
<rect x="530" y="261" width="3" height="18" fill="#FF0000"/>
<rect x="535" y="229" width="1" height="58" fill="#00BFFF"/>
<rect x="534" y="256" width="3" height="25" fill="#00BFFF"/>
<rect x="539" y="248" width="1" height="52" fill="#FF0000"/>
<rect x="538" y="259" width="3" height="6" fill="#FF0000"/>
<rect x="543" y="218" width="1" height="61" fill="#FF0000"/>
<rect x="542" y="261" width="3" height="9" fill="#FF0000"/>
<rect x="547" y="226" width="1" height="44" fill="#00BFFF"/>
<rect x="546" y="234" width="3" height="34" fill="#00BFFF"/>
<rect x="551" y="221" width="1" height="36" fill="#FF0000"/>
<rect x="550" y="237" width="3" height="4" fill="#FF0000"/>
<rect x="555" y="237" width="1" height="42" fill="#FF0000"/>
<rect x="554" y="237" width="3" height="36" fill="#FF0000"/>
<rect x="559" y="264" width="1" height="28" fill="#000000"/>
<rect x="558" y="269" width="3" height="1" fill="#000000"/>
<rect x="563" y="231" width="1" height="42" fill="#00BFFF"/>
<rect x="562" y="231" width="3" height="37" fill="#00BFFF"/>
<rect x="567" y="226" width="1" height="20" fill="#00BFFF"/>
<rect x="566" y="231" width="3" height="7" fill="#00BFFF"/>
<rect x="571" y="229" width="1" height="22" fill="#FF0000"/>
<rect x="570" y="234" width="3" height="4" fill="#FF0000"/>
<rect x="575" y="234" width="1" height="15" fill="#FF0000"/>
<rect x="574" y="234" width="3" height="12" fill="#FF0000"/>
<rect x="579" y="234" width="1" height="23" fill="#000000"/>
<rect x="578" y="242" width="3" height="1" fill="#000000"/>
<rect x="583" y="240" width="1" height="25" fill="#FF0000"/>
<rect x="582" y="240" width="3" height="11" fill="#FF0000"/>
<rect x="587" y="229" width="1" height="25" fill="#00BFFF"/>
<rect x="586" y="231" width="3" height="18" fill="#00BFFF"/>
<rect x="591" y="229" width="1" height="12" fill="#00BFFF"/>
<rect x="590" y="229" width="3" height="6" fill="#00BFFF"/>
<rect x="595" y="226" width="1" height="12" fill="#000000"/>
<rect x="594" y="231" width="3" height="1" fill="#000000"/>
<rect x="599" y="202" width="1" height="33" fill="#00BFFF"/>
<rect x="598" y="204" width="3" height="26" fill="#00BFFF"/>
<rect x="603" y="204" width="1" height="23" fill="#FF0000"/>
<rect x="602" y="206" width="3" height="5" fill="#FF0000"/>
<rect x="607" y="180" width="1" height="47" fill="#00BFFF"/>
<rect x="606" y="196" width="3" height="12" fill="#00BFFF"/>
<rect x="611" y="188" width="1" height="36" fill="#FF0000"/>
<rect x="610" y="193" width="3" height="29" fill="#FF0000"/>
<rect x="615" y="193" width="1" height="39" fill="#00BFFF"/>
<rect x="614" y="215" width="3" height="9" fill="#00BFFF"/>
<rect x="619" y="185" width="1" height="37" fill="#00BFFF"/>
<rect x="618" y="196" width="3" height="17" fill="#00BFFF"/>
<rect x="623" y="177" width="1" height="31" fill="#00BFFF"/>
<rect x="622" y="191" width="3" height="9" fill="#00BFFF"/>
<rect x="627" y="85" width="1" height="177" fill="#00BFFF"/>
<rect x="626" y="161" width="3" height="28" fill="#00BFFF"/>
<rect x="631" y="120" width="1" height="50" fill="#00BFFF"/>
<rect x="630" y="128" width="3" height="31" fill="#00BFFF"/>
<rect x="635" y="47" width="1" height="177" fill="#FF0000"/>
<rect x="634" y="126" width="3" height="63" fill="#FF0000"/>
<rect x="639" y="164" width="1" height="90" fill="#00BFFF"/>
<rect x="638" y="185" width="3" height="7" fill="#00BFFF"/>
<rect x="643" y="183" width="1" height="52" fill="#FF0000"/>
<rect x="642" y="188" width="3" height="28" fill="#FF0000"/>
<rect x="647" y="172" width="1" height="47" fill="#00BFFF"/>
<rect x="646" y="185" width="3" height="34" fill="#00BFFF"/>
<rect x="651" y="174" width="1" height="48" fill="#FF0000"/>
<rect x="650" y="183" width="3" height="17" fill="#FF0000"/>
<rect x="655" y="193" width="1" height="34" fill="#FF0000"/>
<rect x="654" y="202" width="3" height="14" fill="#FF0000"/>
<rect x="659" y="210" width="1" height="39" fill="#00BFFF"/>
<rect x="658" y="215" width="3" height="4" fill="#00BFFF"/>
<rect x="663" y="267" width="1" height="109" fill="#00BFFF"/>
<rect x="662" y="316" width="3" height="49" fill="#00BFFF"/>
<rect x="667" y="299" width="1" height="81" fill="#FF0000"/>
<rect x="666" y="318" width="3" height="14" fill="#FF0000"/>
<rect x="671" y="250" width="1" height="88" fill="#00BFFF"/>
<rect x="670" y="261" width="3" height="75" fill="#00BFFF"/>
<rect x="675" y="253" width="1" height="23" fill="#000000"/>
<rect x="674" y="259" width="3" height="1" fill="#000000"/>
<rect x="2" y="425" width="3" height="28" fill="#696969"/>
<rect x="6" y="423" width="3" height="30" fill="#696969"/>
<rect x="10" y="420" width="3" height="33" fill="#696969"/>
<rect x="14" y="418" width="3" height="35" fill="#696969"/>
<rect x="18" y="417" width="3" height="36" fill="#696969"/>
<rect x="22" y="418" width="3" height="35" fill="#696969"/>
<rect x="26" y="420" width="3" height="33" fill="#696969"/>
<rect x="30" y="421" width="3" height="32" fill="#696969"/>
<rect x="34" y="425" width="3" height="28" fill="#696969"/>
<rect x="38" y="427" width="3" height="26" fill="#696969"/>
<rect x="42" y="429" width="3" height="24" fill="#696969"/>
<rect x="46" y="437" width="3" height="16" fill="#696969"/>
<rect x="50" y="438" width="3" height="15" fill="#696969"/>
<rect x="54" y="443" width="3" height="10" fill="#696969"/>
<rect x="58" y="446" width="3" height="7" fill="#696969"/>
<rect x="62" y="444" width="3" height="9" fill="#696969"/>
<rect x="66" y="442" width="3" height="11" fill="#696969"/>
<rect x="70" y="440" width="3" height="13" fill="#696969"/>
<rect x="74" y="439" width="3" height="14" fill="#696969"/>
<rect x="78" y="434" width="3" height="19" fill="#696969"/>
<rect x="82" y="435" width="3" height="18" fill="#696969"/>
<rect x="86" y="436" width="3" height="17" fill="#696969"/>
<rect x="90" y="436" width="3" height="17" fill="#696969"/>
<rect x="94" y="435" width="3" height="18" fill="#696969"/>
<rect x="98" y="436" width="3" height="17" fill="#696969"/>
<rect x="102" y="437" width="3" height="16" fill="#696969"/>
<rect x="106" y="440" width="3" height="13" fill="#696969"/>
<rect x="110" y="442" width="3" height="11" fill="#696969"/>
<rect x="114" y="445" width="3" height="8" fill="#696969"/>
<rect x="118" y="446" width="3" height="7" fill="#696969"/>
<rect x="122" y="447" width="3" height="6" fill="#696969"/>
<rect x="126" y="446" width="3" height="7" fill="#696969"/>
<rect x="130" y="445" width="3" height="8" fill="#696969"/>
<rect x="134" y="447" width="3" height="6" fill="#696969"/>
<rect x="138" y="446" width="3" height="7" fill="#696969"/>
<rect x="142" y="448" width="3" height="5" fill="#696969"/>
<rect x="146" y="448" width="3" height="5" fill="#696969"/>
<rect x="150" y="448" width="3" height="5" fill="#696969"/>
<rect x="154" y="449" width="3" height="4" fill="#696969"/>
<rect x="158" y="453" width="3" height="1" fill="#696969"/>
<rect x="162" y="452" width="3" height="1" fill="#696969"/>
<rect x="166" y="452" width="3" height="1" fill="#696969"/>
<rect x="170" y="444" width="3" height="9" fill="#696969"/>
<rect x="174" y="444" width="3" height="9" fill="#696969"/>
<rect x="178" y="446" width="3" height="7" fill="#696969"/>
<rect x="182" y="443" width="3" height="10" fill="#696969"/>
<rect x="186" y="437" width="3" height="16" fill="#696969"/>
<rect x="190" y="435" width="3" height="18" fill="#696969"/>
<rect x="194" y="431" width="3" height="22" fill="#696969"/>
<rect x="198" y="428" width="3" height="25" fill="#696969"/>
<rect x="202" y="427" width="3" height="26" fill="#696969"/>
<rect x="206" y="427" width="3" height="26" fill="#696969"/>
<rect x="210" y="430" width="3" height="23" fill="#696969"/>
<rect x="214" y="432" width="3" height="21" fill="#696969"/>
<rect x="218" y="433" width="3" height="20" fill="#696969"/>
<rect x="222" y="436" width="3" height="17" fill="#696969"/>
<rect x="226" y="442" width="3" height="11" fill="#696969"/>
<rect x="230" y="447" width="3" height="6" fill="#696969"/>
<rect x="234" y="449" width="3" height="4" fill="#696969"/>
<rect x="238" y="453" width="3" height="2" fill="#696969"/>
<rect x="242" y="453" width="3" height="3" fill="#696969"/>
<rect x="246" y="451" width="3" height="2" fill="#696969"/>
<rect x="250" y="447" width="3" height="6" fill="#696969"/>
<rect x="254" y="446" width="3" height="7" fill="#696969"/>
<rect x="258" y="445" width="3" height="8" fill="#696969"/>
<rect x="262" y="445" width="3" height="8" fill="#696969"/>
<rect x="266" y="439" width="3" height="14" fill="#696969"/>
<rect x="270" y="438" width="3" height="15" fill="#696969"/>
<rect x="274" y="438" width="3" height="15" fill="#696969"/>
<rect x="278" y="437" width="3" height="16" fill="#696969"/>
<rect x="282" y="437" width="3" height="16" fill="#696969"/>
<rect x="286" y="435" width="3" height="18" fill="#696969"/>
<rect x="290" y="433" width="3" height="20" fill="#696969"/>
<rect x="294" y="435" width="3" height="18" fill="#696969"/>
<rect x="298" y="437" width="3" height="16" fill="#696969"/>
<rect x="302" y="437" width="3" height="16" fill="#696969"/>
<rect x="306" y="437" width="3" height="16" fill="#696969"/>
<rect x="310" y="438" width="3" height="15" fill="#696969"/>
<rect x="314" y="440" width="3" height="13" fill="#696969"/>
<rect x="318" y="446" width="3" height="7" fill="#696969"/>
<rect x="322" y="451" width="3" height="2" fill="#696969"/>
<rect x="326" y="453" width="3" height="1" fill="#696969"/>
<rect x="330" y="453" width="3" height="6" fill="#696969"/>
<rect x="334" y="453" width="3" height="11" fill="#696969"/>
<rect x="338" y="453" width="3" height="19" fill="#696969"/>
<rect x="342" y="453" width="3" height="20" fill="#696969"/>
<rect x="346" y="453" width="3" height="19" fill="#696969"/>
<rect x="350" y="453" width="3" height="22" fill="#696969"/>
<rect x="354" y="453" width="3" height="23" fill="#696969"/>
<rect x="358" y="453" width="3" height="24" fill="#696969"/>
<rect x="362" y="453" width="3" height="22" fill="#696969"/>
<rect x="366" y="453" width="3" height="19" fill="#696969"/>
<rect x="370" y="453" width="3" height="17" fill="#696969"/>
<rect x="374" y="453" width="3" height="17" fill="#696969"/>
<rect x="378" y="453" width="3" height="16" fill="#696969"/>
<rect x="382" y="453" width="3" height="13" fill="#696969"/>
<rect x="386" y="453" width="3" height="13" fill="#696969"/>
<rect x="390" y="453" width="3" height="10" fill="#696969"/>
<rect x="394" y="453" width="3" height="7" fill="#696969"/>
<rect x="398" y="453" width="3" height="5" fill="#696969"/>
<rect x="402" y="453" width="3" height="4" fill="#696969"/>
<rect x="406" y="453" width="3" height="3" fill="#696969"/>
<rect x="410" y="453" width="3" height="1" fill="#696969"/>
<rect x="414" y="453" width="3" height="6" fill="#696969"/>
<rect x="418" y="453" width="3" height="9" fill="#696969"/>
<rect x="422" y="453" width="3" height="10" fill="#696969"/>
<rect x="426" y="453" width="3" height="10" fill="#696969"/>
<rect x="430" y="453" width="3" height="16" fill="#696969"/>
<rect x="434" y="453" width="3" height="18" fill="#696969"/>
<rect x="438" y="453" width="3" height="22" fill="#696969"/>
<rect x="442" y="453" width="3" height="13" fill="#696969"/>
<rect x="446" y="453" width="3" height="11" fill="#696969"/>
<rect x="450" y="453" width="3" height="7" fill="#696969"/>
<rect x="454" y="453" width="3" height="7" fill="#696969"/>
<rect x="458" y="453" width="3" height="3" fill="#696969"/>
<rect x="462" y="453" width="3" height="1" fill="#696969"/>
<rect x="466" y="452" width="3" height="1" fill="#696969"/>
<rect x="470" y="453" width="3" height="1" fill="#696969"/>
<rect x="474" y="453" width="3" height="1" fill="#696969"/>
<rect x="478" y="451" width="3" height="2" fill="#696969"/>
<rect x="482" y="451" width="3" height="2" fill="#696969"/>
<rect x="486" y="453" width="3" height="1" fill="#696969"/>
<rect x="490" y="453" width="3" height="2" fill="#696969"/>
<rect x="494" y="453" width="3" height="5" fill="#696969"/>
<rect x="498" y="453" width="3" height="9" fill="#696969"/>
<rect x="502" y="453" width="3" height="12" fill="#696969"/>
<rect x="506" y="453" width="3" height="16" fill="#696969"/>
<rect x="510" y="453" width="3" height="18" fill="#696969"/>
<rect x="514" y="453" width="3" height="17" fill="#696969"/>
<rect x="518" y="453" width="3" height="17" fill="#696969"/>
<rect x="522" y="453" width="3" height="15" fill="#696969"/>
<rect x="526" y="453" width="3" height="11" fill="#696969"/>
<rect x="530" y="453" width="3" height="10" fill="#696969"/>
<rect x="534" y="453" width="3" height="7" fill="#696969"/>
<rect x="538" y="453" width="3" height="5" fill="#696969"/>
<rect x="542" y="453" width="3" height="4" fill="#696969"/>
<rect x="546" y="452" width="3" height="1" fill="#696969"/>
<rect x="550" y="449" width="3" height="4" fill="#696969"/>
<rect x="554" y="451" width="3" height="2" fill="#696969"/>
<rect x="558" y="451" width="3" height="2" fill="#696969"/>
<rect x="562" y="448" width="3" height="5" fill="#696969"/>
<rect x="566" y="446" width="3" height="7" fill="#696969"/>
<rect x="570" y="444" width="3" height="9" fill="#696969"/>
<rect x="574" y="444" width="3" height="9" fill="#696969"/>
<rect x="578" y="444" width="3" height="9" fill="#696969"/>
<rect x="582" y="445" width="3" height="8" fill="#696969"/>
<rect x="586" y="443" width="3" height="10" fill="#696969"/>
<rect x="590" y="442" width="3" height="11" fill="#696969"/>
<rect x="594" y="442" width="3" height="11" fill="#696969"/>
<rect x="598" y="439" width="3" height="14" fill="#696969"/>
<rect x="602" y="437" width="3" height="16" fill="#696969"/>
<rect x="606" y="435" width="3" height="18" fill="#696969"/>
<rect x="610" y="436" width="3" height="17" fill="#696969"/>
<rect x="614" y="436" width="3" height="17" fill="#696969"/>
<rect x="618" y="434" width="3" height="19" fill="#696969"/>
<rect x="622" y="433" width="3" height="20" fill="#696969"/>
<rect x="626" y="429" width="3" height="24" fill="#696969"/>
<rect x="630" y="423" width="3" height="30" fill="#696969"/>
<rect x="634" y="424" width="3" height="29" fill="#696969"/>
<rect x="638" y="426" width="3" height="27" fill="#696969"/>
<rect x="642" y="430" width="3" height="23" fill="#696969"/>
<rect x="646" y="431" width="3" height="22" fill="#696969"/>
<rect x="650" y="433" width="3" height="20" fill="#696969"/>
<rect x="654" y="436" width="3" height="17" fill="#696969"/>
<rect x="658" y="439" width="3" height="14" fill="#696969"/>
<rect x="662" y="452" width="3" height="1" fill="#696969"/>
<rect x="666" y="453" width="3" height="11" fill="#696969"/>
<rect x="670" y="453" width="3" height="13" fill="#696969"/>
<rect x="674" y="453" width="3" height="14" fill="#696969"/>
<rect x="2" y="2" width="699" height="1" fill="#000000"/>
<rect x="2" y="411" width="699" height="1" fill="#000000"/>
<rect x="2" y="2" width="1" height="410" fill="#000000"/>
<rect x="700" y="2" width="1" height="410" fill="#000000"/>
<rect x="2" y="413" width="699" height="1" fill="#000000"/>
<rect x="2" y="479" width="699" height="1" fill="#000000"/>
<rect x="2" y="413" width="1" height="67" fill="#000000"/>
<rect x="700" y="413" width="1" height="67" fill="#000000"/>
<rect x="700" y="259" width="1" height="1" fill="#778899"/>
<path d="M6 9h7l-3.5 4z" fill="#000"/>
<text x="18.3" y="14" fill="#000" textLength="55.3" lengthAdjust="spacingAndGlyphs" text-anchor="start">USDCAD,H1</text>
<text x="81" y="14" fill="#000" textLength="26.8" lengthAdjust="spacingAndGlyphs" text-anchor="start">1.3386</text>
<text x="111.8" y="14" fill="#000" textLength="26.8" lengthAdjust="spacingAndGlyphs" text-anchor="start">1.3388</text>
<text x="142.8" y="14" fill="#000" textLength="26.8" lengthAdjust="spacingAndGlyphs" text-anchor="start">1.3380</text>
<text x="173.8" y="14" fill="#000" textLength="26.8" lengthAdjust="spacingAndGlyphs" text-anchor="start">1.3386</text>
<rect x="701" y="31" width="2" height="1" fill="#000000"/>
<text x="706.6" y="35" fill="#000" textLength="27.4" lengthAdjust="spacingAndGlyphs" text-anchor="start">1.3470</text>
<rect x="701" y="72" width="2" height="1" fill="#000000"/>
<text x="706.6" y="76" fill="#000" textLength="27.4" lengthAdjust="spacingAndGlyphs" text-anchor="start">1.3455</text>
<rect x="701" y="112" width="2" height="1" fill="#000000"/>
<text x="706.6" y="116" fill="#000" textLength="27.4" lengthAdjust="spacingAndGlyphs" text-anchor="start">1.3440</text>
<rect x="701" y="153" width="2" height="1" fill="#000000"/>
<text x="706.6" y="157" fill="#000" textLength="27.4" lengthAdjust="spacingAndGlyphs" text-anchor="start">1.3425</text>
<rect x="701" y="193" width="2" height="1" fill="#000000"/>
<text x="706.6" y="197" fill="#000" textLength="27.4" lengthAdjust="spacingAndGlyphs" text-anchor="start">1.3410</text>
<rect x="701" y="234" width="2" height="1" fill="#000000"/>
<text x="706.6" y="238" fill="#000" textLength="27.4" lengthAdjust="spacingAndGlyphs" text-anchor="start">1.3395</text>
<rect x="701" y="275" width="2" height="1" fill="#000000"/>
<text x="706.6" y="279" fill="#000" textLength="27.4" lengthAdjust="spacingAndGlyphs" text-anchor="start">1.3380</text>
<rect x="701" y="316" width="2" height="1" fill="#000000"/>
<text x="706.6" y="320" fill="#000" textLength="27.4" lengthAdjust="spacingAndGlyphs" text-anchor="start">1.3365</text>
<rect x="701" y="356" width="2" height="1" fill="#000000"/>
<text x="706.6" y="360" fill="#000" textLength="27.4" lengthAdjust="spacingAndGlyphs" text-anchor="start">1.3350</text>
<rect x="701" y="397" width="2" height="1" fill="#000000"/>
<text x="706.6" y="401" fill="#000" textLength="27.4" lengthAdjust="spacingAndGlyphs" text-anchor="start">1.3335</text>
<rect x="702" y="41" width="36" height="11" fill="#FF0000"/>
<text x="706.6" y="50" fill="#fff" class="w" textLength="27.4" lengthAdjust="spacingAndGlyphs" text-anchor="start">1.3464</text>
<rect x="702" y="127" width="36" height="11" fill="#FF0000"/>
<text x="706.6" y="136" fill="#fff" class="w" textLength="27.4" lengthAdjust="spacingAndGlyphs" text-anchor="start">1.3432</text>
<rect x="702" y="200" width="36" height="11" fill="#FF0000"/>
<text x="706.6" y="209" fill="#fff" class="w" textLength="27.4" lengthAdjust="spacingAndGlyphs" text-anchor="start">1.3405</text>
<rect x="702" y="324" width="36" height="11" fill="#FF0000"/>
<text x="706.6" y="333" fill="#fff" class="w" textLength="27.4" lengthAdjust="spacingAndGlyphs" text-anchor="start">1.3360</text>
<rect x="702" y="373" width="36" height="11" fill="#FF0000"/>
<text x="706.6" y="382" fill="#fff" class="w" textLength="27.4" lengthAdjust="spacingAndGlyphs" text-anchor="start">1.3342</text>
<rect x="702" y="254" width="36" height="11" fill="#000000"/>
<text x="706.6" y="263" fill="#fff" class="w" textLength="27.4" lengthAdjust="spacingAndGlyphs" text-anchor="start">1.3386</text>
<rect x="701" y="415" width="1" height="1" fill="#000000"/>
<text x="704" y="424" fill="#000" textLength="32.8" lengthAdjust="spacingAndGlyphs" text-anchor="start">0.00114</text>
<rect x="701" y="453" width="1" height="1" fill="#000000"/>
<text x="704" y="457" fill="#000" textLength="18.2" lengthAdjust="spacingAndGlyphs" text-anchor="start">0.00</text>
<rect x="701" y="478" width="1" height="1" fill="#000000"/>
<text x="704.3" y="477" fill="#000" textLength="35.4" lengthAdjust="spacingAndGlyphs" text-anchor="start">-0.00074</text>
<text x="7.4" y="426" fill="#000" textLength="65.6" lengthAdjust="spacingAndGlyphs" text-anchor="start">MACD(12,26,9)</text>
<text x="77.2" y="426" fill="#000" textLength="34.8" lengthAdjust="spacingAndGlyphs" text-anchor="start">-0.00037</text>
<text x="115.7" y="426" fill="#000" textLength="32" lengthAdjust="spacingAndGlyphs" text-anchor="start">0.00021</text>
<rect x="3" y="480" width="1" height="2" fill="#000000"/>
<text x="2.4" y="492" fill="#000" textLength="50.2" lengthAdjust="spacingAndGlyphs" text-anchor="start">27 Oct 2016</text>
<rect x="67" y="480" width="1" height="2" fill="#000000"/>
<text x="66.4" y="492" fill="#000" textLength="53.4" lengthAdjust="spacingAndGlyphs" text-anchor="start">27 Oct 17:00</text>
<rect x="131" y="480" width="1" height="2" fill="#000000"/>
<text x="130.4" y="492" fill="#000" textLength="53.4" lengthAdjust="spacingAndGlyphs" text-anchor="start">28 Oct 09:00</text>
<rect x="195" y="480" width="1" height="2" fill="#000000"/>
<text x="194.4" y="492" fill="#000" textLength="53.4" lengthAdjust="spacingAndGlyphs" text-anchor="start">31 Oct 02:00</text>
<rect x="259" y="480" width="1" height="2" fill="#000000"/>
<text x="258.4" y="492" fill="#000" textLength="53.4" lengthAdjust="spacingAndGlyphs" text-anchor="start">31 Oct 18:00</text>
<rect x="323" y="480" width="1" height="2" fill="#000000"/>
<text x="322.2" y="492" fill="#000" textLength="51.6" lengthAdjust="spacingAndGlyphs" text-anchor="start">1 Nov 10:00</text>
<rect x="387" y="480" width="1" height="2" fill="#000000"/>
<text x="386.2" y="492" fill="#000" textLength="51.6" lengthAdjust="spacingAndGlyphs" text-anchor="start">2 Nov 02:00</text>
<rect x="451" y="480" width="1" height="2" fill="#000000"/>
<text x="450.2" y="492" fill="#000" textLength="51.6" lengthAdjust="spacingAndGlyphs" text-anchor="start">2 Nov 18:00</text>
<rect x="515" y="480" width="1" height="2" fill="#000000"/>
<text x="514.2" y="492" fill="#000" textLength="51.6" lengthAdjust="spacingAndGlyphs" text-anchor="start">3 Nov 10:00</text>
<rect x="579" y="480" width="1" height="2" fill="#000000"/>
<text x="578.2" y="492" fill="#000" textLength="51.6" lengthAdjust="spacingAndGlyphs" text-anchor="start">4 Nov 02:00</text>
<rect x="643" y="480" width="1" height="2" fill="#000000"/>
<text x="642.2" y="492" fill="#000" textLength="51.6" lengthAdjust="spacingAndGlyphs" text-anchor="start">4 Nov 18:00</text>
<path d="M3 432h1v1h-1zM4 431h1v1h-1zM5 431h1v1h-1zM9 429h1v1h-1zM10 428h1v1h-1zM11 428h1v1h-1zM15 426h1v1h-1zM16 426h1v1h-1zM17 425h1v1h-1zM21 423h1v1h-1zM22 423h1v1h-1zM23 423h1v1h-1zM27 421h1v1h-1zM28 421h1v1h-1zM29 421h1v1h-1zM33 421h1v1h-1zM34 421h1v1h-1zM35 421h1v1h-1zM39 422h1v1h-1zM40 422h1v1h-1zM41 422h1v1h-1zM45 424h1v1h-1zM46 424h1v1h-1zM47 425h1v1h-1zM51 426h1v1h-1zM52 427h1v1h-1zM53 427h1v1h-1zM57 430h1v1h-1zM58 431h1v1h-1zM59 432h1v1h-1zM63 435h1v1h-1zM64 435h1v1h-1zM65 436h1v1h-1zM69 437h1v1h-1zM70 437h1v1h-1zM71 438h1v1h-1zM75 440h1v1h-1zM76 440h1v1h-1zM77 440h1v1h-1zM81 440h1v1h-1zM82 440h1v1h-1zM83 440h1v1h-1zM87 439h1v1h-1zM88 439h1v1h-1zM89 439h1v1h-1zM93 438h1v1h-1zM94 437h1v1h-1zM95 437h1v1h-1zM99 436h1v1h-1zM100 436h1v1h-1zM101 436h1v1h-1zM105 437h1v1h-1zM106 437h1v1h-1zM107 437h1v1h-1zM111 437h1v1h-1zM112 437h1v1h-1zM113 437h1v1h-1zM117 438h1v1h-1zM118 439h1v1h-1zM119 439h1v1h-1zM123 440h1v1h-1zM124 440h1v1h-1zM125 440h1v1h-1zM129 441h1v1h-1zM130 441h1v1h-1zM131 442h1v1h-1zM135 444h1v1h-1zM136 444h1v1h-1zM137 444h1v1h-1zM141 445h1v1h-1zM142 446h1v1h-1zM143 446h1v1h-1zM147 446h1v1h-1zM148 446h1v1h-1zM149 446h1v1h-1zM153 447h1v1h-1zM154 447h1v1h-1zM155 447h1v1h-1zM159 448h1v1h-1zM160 448h1v1h-1zM161 448h1v1h-1zM165 448h1v1h-1zM166 448h1v1h-1zM167 449h1v1h-1zM171 449h1v1h-1zM172 449h1v1h-1zM173 449h1v1h-1zM177 448h1v1h-1zM178 448h1v1h-1zM179 448h1v1h-1zM183 447h1v1h-1zM184 447h1v1h-1zM185 447h1v1h-1zM189 445h1v1h-1zM190 445h1v1h-1zM191 445h1v1h-1zM195 443h1v1h-1zM196 442h1v1h-1zM197 441h1v1h-1zM201 438h1v1h-1zM202 437h1v1h-1zM203 437h1v1h-1zM207 435h1v1h-1zM208 434h1v1h-1zM209 434h1v1h-1zM213 432h1v1h-1zM214 432h1v1h-1zM215 432h1v1h-1zM219 431h1v1h-1zM220 431h1v1h-1zM221 431h1v1h-1zM225 432h1v1h-1zM226 432h1v1h-1zM227 432h1v1h-1zM231 433h1v1h-1zM232 433h1v1h-1zM233 434h1v1h-1zM237 437h1v1h-1zM238 438h1v1h-1zM239 438h1v1h-1zM243 441h1v1h-1zM244 442h1v1h-1zM245 443h1v1h-1zM249 445h1v1h-1zM250 445h1v1h-1zM251 446h1v1h-1zM255 447h1v1h-1zM256 448h1v1h-1zM257 448h1v1h-1zM261 449h1v1h-1zM262 449h1v1h-1zM263 449h1v1h-1zM267 448h1v1h-1zM268 447h1v1h-1zM269 447h1v1h-1zM273 445h1v1h-1zM274 445h1v1h-1zM275 445h1v1h-1zM279 443h1v1h-1zM280 443h1v1h-1zM281 442h1v1h-1zM285 441h1v1h-1zM286 440h1v1h-1zM287 440h1v1h-1zM291 438h1v1h-1zM292 438h1v1h-1zM293 438h1v1h-1zM297 437h1v1h-1zM298 437h1v1h-1zM299 436h1v1h-1zM303 436h1v1h-1zM304 436h1v1h-1zM305 436h1v1h-1zM309 436h1v1h-1zM310 436h1v1h-1zM311 436h1v1h-1zM315 437h1v1h-1zM316 437h1v1h-1zM317 437h1v1h-1zM321 438h1v1h-1zM322 439h1v1h-1zM323 439h1v1h-1zM327 441h1v1h-1zM328 442h1v1h-1zM329 443h1v1h-1zM333 445h1v1h-1zM334 446h1v1h-1zM335 447h1v1h-1zM339 451h1v1h-1zM340 452h1v1h-1zM341 453h1v1h-1zM345 456h1v1h-1zM346 457h1v1h-1zM347 458h1v1h-1zM351 462h1v1h-1zM352 463h1v1h-1zM353 463h1v1h-1zM357 466h1v1h-1zM358 467h1v1h-1zM359 468h1v1h-1zM363 470h1v1h-1zM364 470h1v1h-1zM365 471h1v1h-1zM369 472h1v1h-1zM370 472h1v1h-1zM371 472h1v1h-1zM375 472h1v1h-1zM376 472h1v1h-1zM377 472h1v1h-1zM381 471h1v1h-1zM382 471h1v1h-1zM383 471h1v1h-1zM387 470h1v1h-1zM388 470h1v1h-1zM389 469h1v1h-1zM393 467h1v1h-1zM394 467h1v1h-1zM395 467h1v1h-1zM399 464h1v1h-1zM400 464h1v1h-1zM401 464h1v1h-1zM405 462h1v1h-1zM406 462h1v1h-1zM407 461h1v1h-1zM411 460h1v1h-1zM412 460h1v1h-1zM413 459h1v1h-1zM417 458h1v1h-1zM418 458h1v1h-1zM419 458h1v1h-1zM423 458h1v1h-1zM424 458h1v1h-1zM425 458h1v1h-1zM429 459h1v1h-1zM430 459h1v1h-1zM431 459h1v1h-1zM435 461h1v1h-1zM436 461h1v1h-1zM437 462h1v1h-1zM441 463h1v1h-1zM442 464h1v1h-1zM443 464h1v1h-1zM447 465h1v1h-1zM448 465h1v1h-1zM449 465h1v1h-1zM453 465h1v1h-1zM454 465h1v1h-1zM455 465h1v1h-1zM459 464h1v1h-1zM460 463h1v1h-1zM461 463h1v1h-1zM465 461h1v1h-1zM466 461h1v1h-1zM467 460h1v1h-1zM471 459h1v1h-1zM472 458h1v1h-1zM473 458h1v1h-1zM477 456h1v1h-1zM478 455h1v1h-1zM479 455h1v1h-1zM483 454h1v1h-1zM484 453h1v1h-1zM485 453h1v1h-1zM489 453h1v1h-1zM490 453h1v1h-1zM491 453h1v1h-1zM495 453h1v1h-1zM496 453h1v1h-1zM497 453h1v1h-1zM501 455h1v1h-1zM502 455h1v1h-1zM503 455h1v1h-1zM507 457h1v1h-1zM508 457h1v1h-1zM509 458h1v1h-1zM513 460h1v1h-1zM514 460h1v1h-1zM515 461h1v1h-1zM519 463h1v1h-1zM520 463h1v1h-1zM521 463h1v1h-1zM525 465h1v1h-1zM526 465h1v1h-1zM527 465h1v1h-1zM531 466h1v1h-1zM532 466h1v1h-1zM533 466h1v1h-1zM537 465h1v1h-1zM538 465h1v1h-1zM539 465h1v1h-1zM543 463h1v1h-1zM544 463h1v1h-1zM545 462h1v1h-1zM549 460h1v1h-1zM550 459h1v1h-1zM551 459h1v1h-1zM555 457h1v1h-1zM556 456h1v1h-1zM557 456h1v1h-1zM561 454h1v1h-1zM562 454h1v1h-1zM563 454h1v1h-1zM567 452h1v1h-1zM568 452h1v1h-1zM569 451h1v1h-1zM573 449h1v1h-1zM574 449h1v1h-1zM575 449h1v1h-1zM579 448h1v1h-1zM580 447h1v1h-1zM581 447h1v1h-1zM585 446h1v1h-1zM586 446h1v1h-1zM587 446h1v1h-1zM591 445h1v1h-1zM592 444h1v1h-1zM593 444h1v1h-1zM597 443h1v1h-1zM598 443h1v1h-1zM599 443h1v1h-1zM603 442h1v1h-1zM604 442h1v1h-1zM605 441h1v1h-1zM609 440h1v1h-1zM610 440h1v1h-1zM611 440h1v1h-1zM615 439h1v1h-1zM616 439h1v1h-1zM617 438h1v1h-1zM621 437h1v1h-1zM622 437h1v1h-1zM623 436h1v1h-1zM627 435h1v1h-1zM628 434h1v1h-1zM629 434h1v1h-1zM633 432h1v1h-1zM634 432h1v1h-1zM635 432h1v1h-1zM639 431h1v1h-1zM640 430h1v1h-1zM641 430h1v1h-1zM645 429h1v1h-1zM646 429h1v1h-1zM647 429h1v1h-1zM651 429h1v1h-1zM652 429h1v1h-1zM653 429h1v1h-1zM657 429h1v1h-1zM658 429h1v1h-1zM659 430h1v1h-1zM663 433h1v1h-1zM664 434h1v1h-1zM665 435h1v1h-1zM669 440h1v1h-1zM670 441h1v1h-1zM671 442h1v1h-1zM675 445h1v1h-1z" fill="#FF0000"/>
</svg>
</body></html>
